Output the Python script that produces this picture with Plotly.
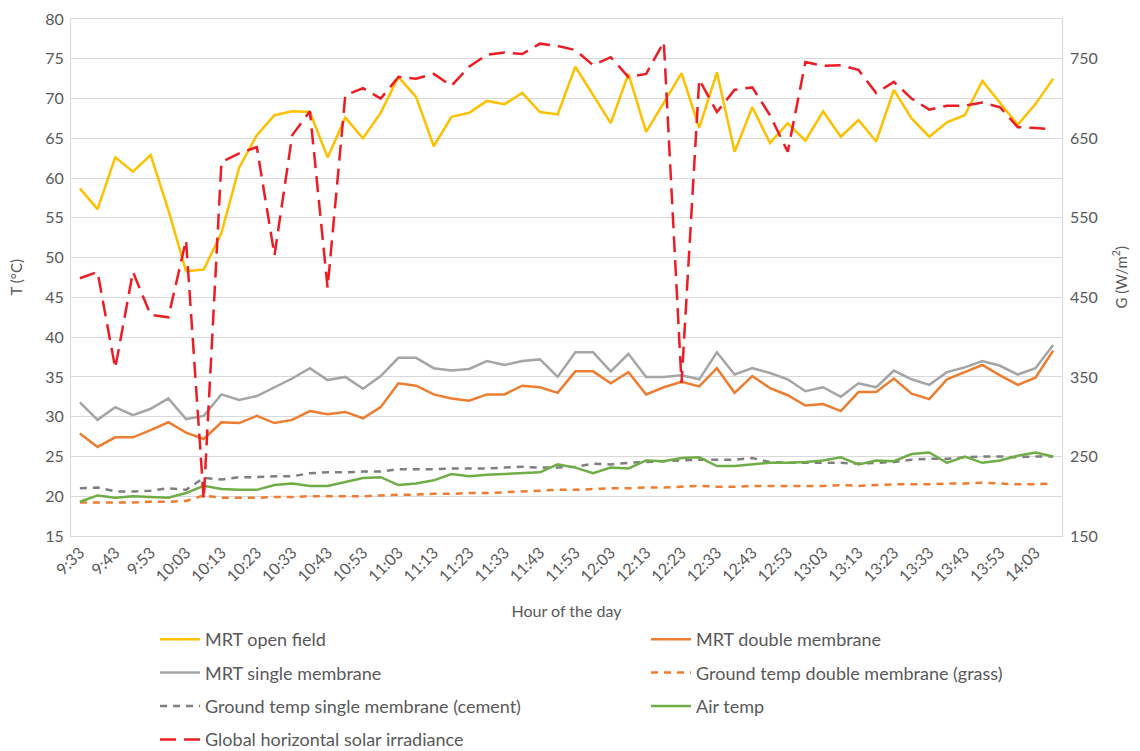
import plotly.graph_objects as go

times = ["9:33", "9:38", "9:43", "9:48", "9:53", "9:58", "10:03", "10:08", "10:13", "10:18",
         "10:23", "10:28", "10:33", "10:38", "10:43", "10:48", "10:53", "10:58", "11:03", "11:08",
         "11:13", "11:18", "11:23", "11:28", "11:33", "11:38", "11:43", "11:48", "11:53", "11:58",
         "12:03", "12:08", "12:13", "12:18", "12:23", "12:28", "12:33", "12:38", "12:43", "12:48",
         "12:53", "12:58", "13:03", "13:08", "13:13", "13:18", "13:23", "13:28", "13:33", "13:38",
         "13:43", "13:48", "13:53", "13:58", "14:03", "14:08"]

mrt_open_field = [58.7, 56.1, 62.6, 60.8, 62.9, 56.0, 48.3, 48.5, 53.1, 61.3,
                  65.4, 67.9, 68.4, 68.3, 62.6, 67.6, 65.0, 68.2, 72.7, 70.2,
                  64.0, 67.7, 68.2, 69.7, 69.3, 70.7, 68.3, 68.0, 74.0, 70.4,
                  66.9, 73.1, 65.8, 69.5, 73.2, 66.3, 73.3, 63.3, 68.9, 64.4,
                  66.9, 64.7, 68.4, 65.2, 67.3, 64.6, 71.1, 67.5, 65.2, 67.0,
                  67.9, 72.2, 69.5, 66.7, 69.3, 72.5]

mrt_double_membrane = [27.9, 26.2, 27.4, 27.4, 28.3, 29.3, 28.0, 27.2, 29.3, 29.2,
                       30.1, 29.2, 29.6, 30.7, 30.3, 30.6, 29.8, 31.2, 34.2, 33.9,
                       32.8, 32.3, 32.0, 32.8, 32.8, 33.9, 33.7, 33.0, 35.7, 35.7,
                       34.2, 35.6, 32.8, 33.7, 34.4, 33.8, 36.1, 33.0, 35.1, 33.6,
                       32.7, 31.4, 31.6, 30.7, 33.1, 33.1, 34.8, 32.9, 32.2, 34.7,
                       35.6, 36.5, 35.2, 34.0, 34.9, 38.3]

mrt_single_membrane = [31.8, 29.6, 31.2, 30.2, 31.0, 32.3, 29.7, 30.1, 32.8, 32.1,
                       32.6, 33.7, 34.8, 36.1, 34.6, 35.0, 33.5, 35.1, 37.4, 37.4,
                       36.1, 35.8, 36.0, 37.0, 36.5, 37.0, 37.2, 35.0, 38.1, 38.1,
                       35.7, 37.9, 35.0, 35.0, 35.2, 34.7, 38.1, 35.3, 36.1, 35.5,
                       34.7, 33.2, 33.7, 32.5, 34.2, 33.7, 35.8, 34.7, 34.0, 35.6,
                       36.2, 37.0, 36.4, 35.3, 36.1, 39.0]

ground_double_grass = [19.2, 19.2, 19.2, 19.2, 19.3, 19.3, 19.4, 20.1, 19.8, 19.8,
                       19.8, 19.9, 19.9, 20.0, 20.0, 20.0, 20.0, 20.1, 20.2, 20.2,
                       20.3, 20.3, 20.4, 20.4, 20.5, 20.6, 20.7, 20.8, 20.8, 20.9,
                       21.0, 21.0, 21.1, 21.1, 21.2, 21.3, 21.2, 21.2, 21.3, 21.3,
                       21.3, 21.3, 21.3, 21.4, 21.3, 21.4, 21.5, 21.5, 21.5, 21.6,
                       21.6, 21.7, 21.6, 21.5, 21.5, 21.6]

ground_single_cement = [21.0, 21.1, 20.6, 20.6, 20.7, 21.0, 20.8, 22.3, 22.1, 22.4,
                        22.4, 22.5, 22.5, 22.9, 23.0, 23.0, 23.1, 23.1, 23.4, 23.4,
                        23.4, 23.5, 23.5, 23.5, 23.6, 23.7, 23.6, 23.6, 23.7, 24.1,
                        24.0, 24.2, 24.3, 24.4, 24.5, 24.6, 24.6, 24.6, 24.8, 24.3,
                        24.2, 24.2, 24.2, 24.2, 24.1, 24.2, 24.3, 24.6, 24.7, 24.7,
                        24.9, 25.0, 25.0, 24.9, 25.0, 25.0]

air_temp = [19.3, 20.1, 19.8, 20.0, 19.9, 19.8, 20.4, 21.3, 20.9, 20.8,
            20.8, 21.4, 21.6, 21.3, 21.3, 21.8, 22.3, 22.4, 21.4, 21.6,
            22.0, 22.8, 22.5, 22.7, 22.8, 22.9, 23.0, 24.0, 23.6, 22.9,
            23.6, 23.5, 24.5, 24.4, 24.8, 24.9, 23.8, 23.8, 24.0, 24.2,
            24.2, 24.3, 24.5, 24.9, 24.0, 24.5, 24.4, 25.3, 25.5, 24.2,
            25.0, 24.2, 24.5, 25.1, 25.5, 25.0]

solar_irradiance = [474, 482, 361, 482, 428, 425, 522, 196, 620, 631,
                    639, 503, 654, 684, 462, 704, 713, 700, 727, 725,
                    731, 716, 740, 755, 758, 756, 769, 766, 761, 742,
                    752, 727, 731, 771, 342, 724, 683, 711, 714, 679,
                    633, 746, 741, 742, 736, 707, 721, 700, 686, 691,
                    691, 695, 689, 664, 663, 661]

FONT = "Lato"
TXT = "#595959"
GRID = "#D9D9D9"

series = [
    ("MRT open field", mrt_open_field, "#FFC000", "solid", "legend", "y"),
    ("MRT double membrane", mrt_double_membrane, "#ED7D31", "solid", "legend2", "y"),
    ("MRT single membrane", mrt_single_membrane, "#A5A5A5", "solid", "legend", "y"),
    ("Ground temp double membrane (grass)", ground_double_grass, "#ED7D31", "7px,6px", "legend2", "y"),
    ("Ground temp single membrane (cement)", ground_single_cement, "#7F7F7F", "7px,6px", "legend", "y"),
    ("Air temp", air_temp, "#70AD47", "solid", "legend2", "y"),
    ("Global horizontal solar irradiance", solar_irradiance, "#EE1C25", "16px,8px", "legend", "y2"),
]

fig = go.Figure()
for name, vals, color, dash, leg, yax in series:
    fig.add_trace(go.Scatter(
        x=times, y=vals, name=name, mode="lines",
        line=dict(color=color, width=2.5, dash=dash),
        legend=leg, legendgroup=name, yaxis=yax,
    ))

legend_common = dict(
    orientation="v", xanchor="left", yanchor="top",
    xref="container", yref="container",
    font=dict(family=FONT, size=18, color=TXT),
    tracegroupgap=7, traceorder="grouped",
    bgcolor="rgba(0,0,0,0)", itemwidth=40,
)

# the page body adds an 8px offset, so the figure is 8px smaller than the window
fig.update_layout(
    width=1132, height=743,
    margin=dict(l=63, r=78, t=11, b=215, autoexpand=False),
    paper_bgcolor="white", plot_bgcolor="white",
    font=dict(family=FONT, size=15, color=TXT),
    showlegend=True,
    legend=dict(x=0.1299, y=0.1750, **legend_common),
    legend2=dict(x=0.5636, y=0.1750, **legend_common),
    xaxis=dict(
        type="category", categoryarray=times, range=[-0.5, len(times) - 0.5],
        tickvals=times[::2], ticktext=times[::2], tickangle=-45,
        tickfont=dict(family=FONT, size=16, color=TXT),
        showgrid=False, showline=True, linecolor=GRID, linewidth=1, mirror=True,
        ticks="", zeroline=False, automargin=True,
        title=dict(text="Hour of the day", font=dict(family=FONT, size=16, color=TXT), standoff=21),
    ),
    yaxis=dict(
        range=[15, 80], dtick=5, tick0=15,
        showgrid=True, gridcolor=GRID, gridwidth=1,
        showline=True, linecolor=GRID, linewidth=1, mirror=True,
        ticks="", zeroline=False, automargin=False, ticklabelstandoff=3,
        tickfont=dict(family=FONT, size=16, color=TXT),
    ),
    yaxis2=dict(
        range=[150, 800], dtick=100, tick0=150, overlaying="y", side="right",
        showgrid=False, zeroline=False, showline=False, ticks="", automargin=False,
        ticklabelstandoff=7,
        tickfont=dict(family=FONT, size=16, color=TXT),
    ),
    annotations=[
        dict(text="T (°C)", xref="paper", yref="paper", x=0, y=0.5, xshift=-56,
             textangle=-90, showarrow=False, xanchor="center", yanchor="middle",
             font=dict(family=FONT, size=15, color=TXT)),
        dict(text="G (W/m<sup>2</sup>)", xref="paper", yref="paper", x=1, y=0.5, xshift=58,
             textangle=-90, showarrow=False, xanchor="center", yanchor="middle",
             font=dict(family=FONT, size=15, color=TXT)),
    ],
)

fig.write_html("out.html")
